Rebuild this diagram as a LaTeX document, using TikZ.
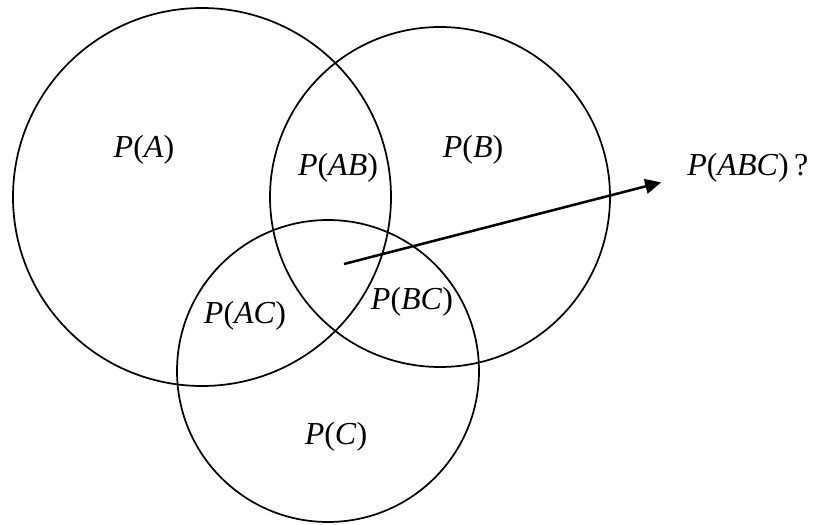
\documentclass[tikz,border=0pt]{standalone}
\usepackage{fontspec}
\setmainfont{Liberation Serif}
\usepackage{tikz}
\usetikzlibrary{arrows.meta}

\newcommand{\prob}[1]{\textit{P}(\textit{#1})}

\begin{document}
\begin{tikzpicture}[x=0.75pt, y=-0.75pt,
    ring/.style={line width=1.3pt},
    lbl/.style={inner sep=0pt, font=\fontsize{24}{28}\selectfont},
    pointer/.style={line width=1.9pt, -{Triangle[length=12pt, width=11pt]}}]
    \useasboundingbox (0,0) rectangle (816,524);

    % the three events
    \coordinate (cA) at (202,197);
    \coordinate (cB) at (440,197);
    \coordinate (cC) at (328,371);
    \draw[ring] (cA) circle (189);
    \draw[ring] (cB) circle (170);
    \draw[ring] (cC) circle (151);

    % labels of the regions
    \node[lbl] (pA) at (144,150) {\prob{A}};
    \node[lbl] (pB) at (473,150) {\prob{B}};
    \node[lbl] (pC) at (336,437) {\prob{C}};
    \node[lbl] (pAB) at (338,168) {\prob{AB}};
    \node[lbl] (pAC) at (245,316) {\prob{AC}};
    \node[lbl] (pBC) at (412,302) {\prob{BC}};

    % the triple intersection
    \node[lbl, anchor=west] (pABC) at (687,168) {\prob{ABC}\,?};
    \coordinate (abc) at (344,264);
    \draw[pointer, shorten >=20pt] (abc) -- (pABC.base west);
\end{tikzpicture}
\end{document}
